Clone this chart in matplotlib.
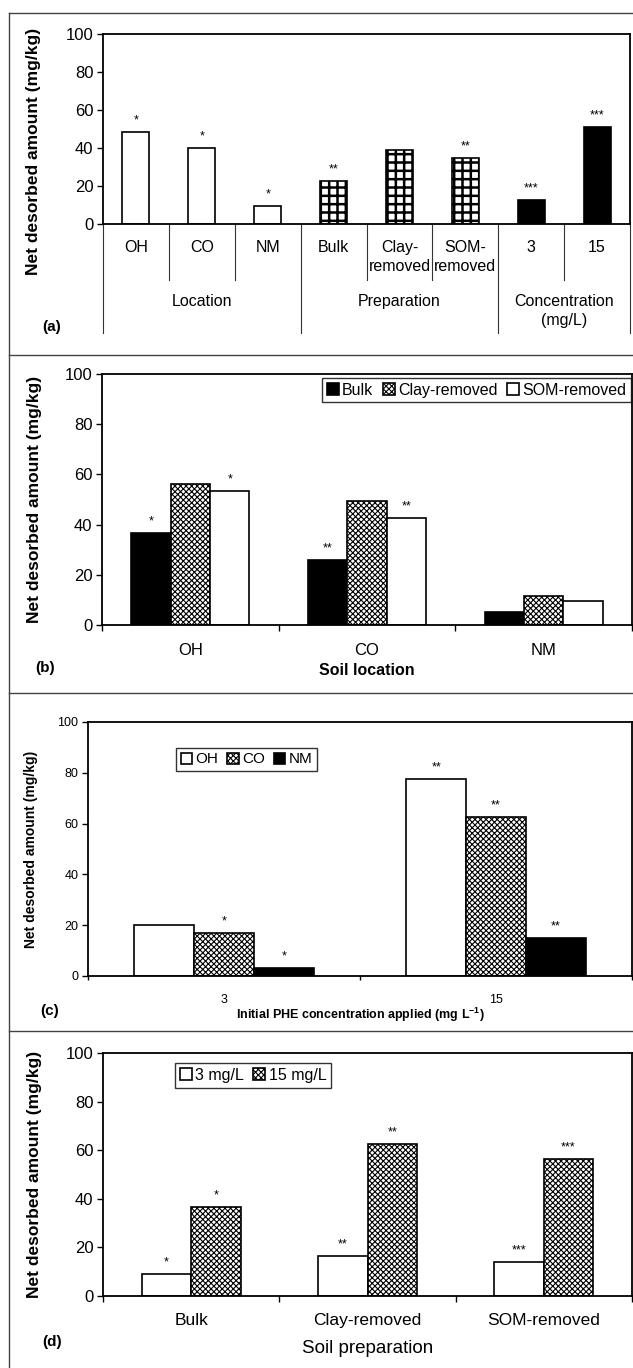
import matplotlib
matplotlib.use('Agg')
import matplotlib.pyplot as plt
from matplotlib.transforms import blended_transform_factory
from matplotlib.lines import Line2D

plt.rcParams['font.family'] = ['Liberation Sans', 'DejaVu Sans']
plt.rcParams['mathtext.fontset'] = 'custom'
plt.rcParams['mathtext.rm'] = 'Liberation Sans'
plt.rcParams['mathtext.bf'] = 'Liberation Sans:bold'
plt.rcParams['mathtext.default'] = 'regular'
plt.rcParams['hatch.color'] = 'black'

# ---- data ----
# (a)
a_labels = ['OH', 'CO', 'NM', 'Bulk', 'Clay-\nremoved', 'SOM-\nremoved', '3', '15']
a_values = [48.5, 40, 9.5, 22.5, 39, 35, 12.5, 51]
a_stars = ['*', '*', '*', '**', '', '**', '***', '***']
a_groups = ['Location', 'Preparation', 'Concentration\n(mg/L)']
a_group_sizes = [3, 3, 2]

# (b)
b_locations = ['OH', 'CO', 'NM']
b_bulk = [36.6, 25.8, 5.3]
b_clay = [56.0, 49.5, 11.7]
b_som = [53.2, 42.8, 9.6]
b_bulk_stars = ['*', '**', '']
b_clay_stars = ['', '', '']
b_som_stars = ['*', '**', '']

# (c)
c_conc = ['3', '15']
c_oh = [19.9, 77.4]
c_co = [16.8, 62.5]
c_nm = [3.3, 15.1]
c_oh_stars = ['', '**']
c_co_stars = ['*', '**']
c_nm_stars = ['*', '**']

# (d)
d_prep = ['Bulk', 'Clay-removed', 'SOM-removed']
d_3 = [8.9, 16.6, 13.9]
d_15 = [36.7, 62.5, 56.5]
d_3_stars = ['*', '**', '***']
d_15_stars = ['*', '**', '***']

W, H = 633, 1368
fig = plt.figure(figsize=(W / 100, H / 100), dpi=100)

CROSS = 'xxxxxx'


def px_axes(left, right, top, bottom):
    return fig.add_axes([left / W, 1 - bottom / H, (right - left) / W, (bottom - top) / H])


def style_axes(ax, tick_size):
    for s in ax.spines.values():
        s.set_linewidth(1.3)
        s.set_color('black')
    ax.set_ylim(0, 100)
    ax.set_yticks(range(0, 101, 20))
    ax.tick_params(axis='y', direction='out', length=4, width=1, labelsize=tick_size, pad=3)


def add_stars(ax, bars, stars, size=9):
    for b, s in zip(bars, stars):
        if s:
            ax.annotate(s, (b.get_x() + b.get_width() / 2, b.get_height()),
                        xytext=(0, 4), textcoords='offset points',
                        ha='center', va='bottom', fontsize=size)


def set_hatch_lw(bars, lw):
    for b in bars:
        if hasattr(b, 'set_hatch_linewidth'):
            b.set_hatch_linewidth(lw)


# ---- panel (a) ----
ax = px_axes(103, 630, 34, 224)
style_axes(ax, 12)
a_face = ['white'] * 3 + ['white'] * 3 + ['black'] * 2
a_hatch = [''] * 3 + ['++'] * 3 + [''] * 2
xa = list(range(len(a_values)))
bars_a = ax.bar(xa, a_values, width=0.41, color=a_face, edgecolor='black',
                linewidth=1.2, hatch=a_hatch)
set_hatch_lw(bars_a, 1.8)
add_stars(ax, bars_a, a_stars)
ax.set_xlim(-0.5, 7.5)
ax.set_xticks([])
ax.set_ylabel('Net desorbed amount (mg/kg)', fontsize=12.5, fontweight='bold')
ax.yaxis.set_label_coords(-0.118, 0.384)

tr = blended_transform_factory(ax.transData, ax.transAxes)
for i, lab in enumerate(a_labels):
    ax.text(i, -0.085, lab, transform=tr, ha='center', va='top', fontsize=11.5,
            linespacing=1.3)
start = 0
bounds = [-0.5]
for g, n in zip(a_groups, a_group_sizes):
    ax.text(start + (n - 1) / 2, -0.37, g, transform=tr, ha='center', va='top',
            fontsize=11.5, linespacing=1.3)
    for k in range(1, n):
        ax.add_line(Line2D([start + k - 0.5] * 2, [0, -0.295], transform=tr,
                           color='#333333', lw=0.8, clip_on=False))
    start += n
    bounds.append(start - 0.5)
for bx in bounds:
    ax.add_line(Line2D([bx] * 2, [0, -0.574], transform=tr, color='#333333',
                       lw=0.8, clip_on=False))

# ---- panel (b) ----
ax = px_axes(102, 632, 374, 625)
style_axes(ax, 12)
plt.rcParams['hatch.linewidth'] = 0.8
xb = list(range(len(b_locations)))
w = 0.223
bb1 = ax.bar([x - w for x in xb], b_bulk, width=w, color='black', edgecolor='black',
             linewidth=1.2, label='Bulk')
bb2 = ax.bar(xb, b_clay, width=w, color='white', edgecolor='black', linewidth=1.2,
             hatch=CROSS, label='Clay-removed')
bb3 = ax.bar([x + w for x in xb], b_som, width=w, color='white', edgecolor='black',
             linewidth=1.2, label='SOM-removed')
set_hatch_lw(bb2, 0.8)
add_stars(ax, bb1, b_bulk_stars)
add_stars(ax, bb2, b_clay_stars)
add_stars(ax, bb3, b_som_stars)
ax.set_xlim(-0.5, 2.5)
ax.set_xticks(xb)
ax.set_xticklabels(b_locations)
ax.set_xticks([-0.5, 0.5, 1.5, 2.5], minor=True)
ax.tick_params(axis='x', which='major', length=0, labelsize=12, pad=13)
ax.tick_params(axis='x', which='minor', direction='out', length=4, width=1)
ax.set_ylabel('Net desorbed amount (mg/kg)', fontsize=12.5, fontweight='bold')
ax.yaxis.set_label_coords(-0.113, 0.5)
ax.set_xlabel('Soil location', fontsize=11.5, fontweight='bold')
ax.xaxis.set_label_coords(0.5, -0.15)
leg = ax.legend(loc='upper right', bbox_to_anchor=(0.998, 0.985), ncol=3,
                fontsize=11.5, frameon=True, fancybox=False, edgecolor='black',
                handlelength=0.75, handleheight=0.75, handletextpad=0.2,
                columnspacing=0.6, borderpad=0.3, borderaxespad=0)
leg.get_frame().set_linewidth(1.0)

# ---- panel (c) ----
ax = px_axes(88, 632, 722, 976)
style_axes(ax, 9)
xc = list(range(len(c_conc)))
w = 0.22
bc1 = ax.bar([x - w for x in xc], c_oh, width=w, color='white', edgecolor='black',
             linewidth=1.2, label='OH')
bc2 = ax.bar(xc, c_co, width=w, color='white', edgecolor='black', linewidth=1.2,
             hatch=CROSS, label='CO')
bc3 = ax.bar([x + w for x in xc], c_nm, width=w, color='black', edgecolor='black',
             linewidth=1.2, label='NM')
set_hatch_lw(bc2, 0.8)
add_stars(ax, bc1, c_oh_stars)
add_stars(ax, bc2, c_co_stars)
add_stars(ax, bc3, c_nm_stars)
ax.set_xlim(-0.5, 1.5)
ax.set_xticks(xc)
ax.set_xticklabels(c_conc)
ax.set_xticks([-0.5, 0.5, 1.5], minor=True)
ax.tick_params(axis='x', which='major', length=0, labelsize=9, pad=13)
ax.tick_params(axis='x', which='minor', direction='out', length=3, width=1)
ax.set_ylabel('Net desorbed amount (mg/kg)', fontsize=10, fontweight='bold')
ax.yaxis.set_label_coords(-0.092, 0.5)
ax.set_xlabel('Initial PHE concentration applied (mg L$^{-1}$)', fontsize=9,
              fontweight='bold')
ax.xaxis.set_label_coords(0.5, -0.118)
leg = ax.legend(loc='upper left', bbox_to_anchor=(0.162, 0.898), ncol=3,
                fontsize=11, frameon=True, fancybox=False, edgecolor='black',
                handlelength=0.75, handleheight=0.75, handletextpad=0.2,
                columnspacing=0.6, borderpad=0.3, borderaxespad=0)
leg.get_frame().set_linewidth(1.0)

# ---- panel (d) ----
ax = px_axes(103, 632, 1053, 1296)
style_axes(ax, 12)
xd = list(range(len(d_prep)))
w = 0.28
bd1 = ax.bar([x - w / 2 for x in xd], d_3, width=w, color='white', edgecolor='black',
             linewidth=1.2, label='3 mg/L')
bd2 = ax.bar([x + w / 2 for x in xd], d_15, width=w, color='white', edgecolor='black',
             linewidth=1.2, hatch=CROSS, label='15 mg/L')
set_hatch_lw(bd2, 0.8)
add_stars(ax, bd1, d_3_stars)
add_stars(ax, bd2, d_15_stars)
ax.set_xlim(-0.5, 2.5)
ax.set_xticks(xd)
ax.set_xticklabels(d_prep)
ax.set_xticks([-0.5, 0.5, 1.5, 2.5], minor=True)
ax.tick_params(axis='x', which='major', length=0, labelsize=12.5, pad=12)
ax.tick_params(axis='x', which='minor', direction='out', length=4, width=1)
ax.set_ylabel('Net desorbed amount (mg/kg)', fontsize=12.5, fontweight='bold')
ax.yaxis.set_label_coords(-0.115, 0.5)
ax.set_xlabel('Soil preparation', fontsize=13.5)
ax.xaxis.set_label_coords(0.5, -0.18)
leg = ax.legend(loc='upper left', bbox_to_anchor=(0.136, 0.959), ncol=2,
                fontsize=11.5, frameon=True, fancybox=False, edgecolor='black',
                handlelength=0.75, handleheight=0.75, handletextpad=0.2,
                columnspacing=0.6, borderpad=0.3, borderaxespad=0)
leg.get_frame().set_linewidth(1.0)

# ---- panel letters and frame lines ----
for lab, x, y in [('(a)', 52, 327), ('(b)', 45, 668), ('(c)', 50, 1011), ('(d)', 52, 1342)]:
    fig.text(x / W, 1 - y / H, lab, ha='center', va='center', fontsize=11,
             fontweight='bold')
for y in [13, 355, 693, 1031]:
    fig.add_artist(Line2D([9 / W, 1], [1 - y / H] * 2, color='#444444', lw=1.0))
fig.add_artist(Line2D([9 / W] * 2, [1 - 13 / H, 0], color='#444444', lw=1.0))

fig.savefig('out.png', dpi=100)
